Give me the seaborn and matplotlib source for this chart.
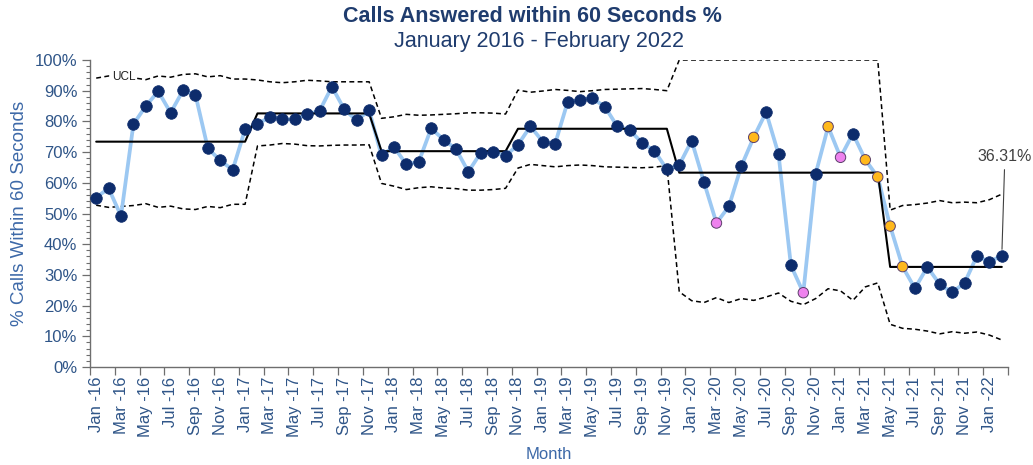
import numpy as np
import pandas as pd
import matplotlib
matplotlib.use("Agg")
import matplotlib.pyplot as plt
from matplotlib.ticker import MultipleLocator, FixedLocator, FuncFormatter
import seaborn as sns

# ---- data -------------------------------------------------------------
months = pd.date_range("2016-01-01", "2022-02-01", freq="MS")
month_labels = [f"{d:%b} -{d:%y}" for d in months]

pct_answered = [
    55.2, 58.2, 49.2, 79.1, 85.0, 89.8, 82.8, 90.1, 88.7, 71.2, 67.3, 64.2,   # 2016
    77.4, 79.1, 81.5, 80.7, 80.7, 82.3, 83.4, 91.3, 83.9, 80.3, 83.6, 68.9,   # 2017
    71.7, 66.0, 66.8, 77.7, 74.1, 71.0, 63.6, 69.8, 70.1, 68.8, 72.4, 78.4,   # 2018
    73.4, 72.8, 86.3, 87.1, 87.5, 84.8, 78.4, 77.2, 73.0, 70.4, 64.4, 65.8,   # 2019
    73.7, 60.1, 46.9, 52.3, 65.4, 74.8, 83.0, 69.4, 33.1, 24.2, 63.0, 78.3,   # 2020
    68.3, 76.0, 67.5, 61.9, 45.9, 32.7, 25.6, 32.6, 26.9, 24.3, 27.4, 36.2,   # 2021
    34.2, 36.31,                                                              # 2022
]

# process phases: number of months in each phase and its mean
phase_lengths = [13, 10, 11, 13, 17, 10]
phase_means = [73.4, 82.6, 70.3, 77.6, 63.3, 32.6]

upper_limit = [
    94.1, 94.8, 94.5, 94.2, 93.6, 94.8, 94.4, 95.3, 95.5, 94.5, 94.9, 93.8, 93.8,
    93.5, 92.9, 92.6, 92.9, 93.4, 93.2, 92.9, 92.9, 92.9, 92.9,
    81.0, 81.5, 82.3, 82.0, 82.1, 82.3, 82.5, 82.8, 82.8, 82.7, 82.4,
    90.2, 89.5, 89.9, 90.4, 90.1, 89.7, 90.0, 90.4, 90.5, 90.6, 90.7, 90.4, 90.0,
    100, 100, 100, 100, 100, 100, 100, 100, 100, 100, 100, 100, 100, 100, 100, 100, 100,
    51.1, 52.6, 52.9, 53.4, 54.2, 53.5, 53.7, 53.5, 54.5, 56.3,
]
lower_limit = [
    52.7, 52.0, 52.3, 52.6, 53.2, 52.0, 52.4, 51.5, 51.3, 52.3, 51.9, 53.0, 53.0,
    72.0, 72.3, 72.8, 72.6, 72.1, 72.0, 72.2, 72.3, 72.3, 72.4,
    59.8, 58.9, 57.8, 58.4, 58.7, 58.3, 58.1, 57.6, 57.6, 57.8, 58.2,
    64.8, 66.0, 65.6, 65.2, 65.6, 65.8, 65.6, 65.2, 65.1, 65.0, 64.9, 65.1, 65.6,
    24.5, 21.6, 21.0, 22.6, 21.0, 22.3, 21.7, 22.8, 24.1, 21.4, 20.3, 22.3, 25.5,
    24.8, 21.7, 26.1, 27.4,
    13.9, 12.6, 12.3, 11.7, 10.8, 11.5, 11.0, 11.4, 10.4, 8.8,
]

# special-cause flags: months highlighted in amber or pink
amber_months = ["2020-06", "2020-12", "2021-03", "2021-04", "2021-05", "2021-06"]
pink_months = ["2020-03", "2020-10", "2021-01"]

# ---- frame ------------------------------------------------------------
n = len(pct_answered)
df = pd.DataFrame({
    "pos": np.arange(n),
    "month": months,
    "pct": pct_answered,
    "ucl": upper_limit,
    "lcl": lower_limit,
    "mean": np.repeat(phase_means, phase_lengths),
})
ym = df["month"].dt.strftime("%Y-%m")
df["flag"] = np.where(ym.isin(amber_months), "amber",
                      np.where(ym.isin(pink_months), "pink", "normal"))

# ---- style ------------------------------------------------------------
sns.set_style("white")
plt.rcParams["font.family"] = ["Liberation Sans", "DejaVu Sans"]

NAVY = "#0D2C6C"
LINE_BLUE = "#9CC8F2"
TICK_BLUE = "#2F5588"
LABEL_BLUE = "#3D69A8"
TITLE_BLUE = "#1F3C6E"
SPINE = "#6E6E6E"

fig = plt.figure(figsize=(10.33, 4.65), dpi=100)
ax = fig.add_axes([90 / 1033, 1 - 367 / 465, 918 / 1033, 307 / 465])

# control limits
dash = (3.2, 2.2)
sns.lineplot(data=df, x="pos", y="ucl", ax=ax, color="black", linewidth=1.1,
             zorder=2).lines[-1].set_dashes(dash)
sns.lineplot(data=df, x="pos", y="lcl", ax=ax, color="black", linewidth=1.1,
             zorder=2).lines[-1].set_dashes(dash)

# monthly series
sns.lineplot(data=df, x="pos", y="pct", ax=ax, color=LINE_BLUE, linewidth=2.7, zorder=3)

# phase means
sns.lineplot(data=df, x="pos", y="mean", ax=ax, color="black", linewidth=1.5, zorder=3.5)

# markers
sns.scatterplot(data=df[df["flag"] == "normal"], x="pos", y="pct", ax=ax,
                color=NAVY, s=70, edgecolor=NAVY, linewidth=0.5, zorder=4, legend=False)
sns.scatterplot(data=df[df["flag"] != "normal"], x="pos", y="pct", hue="flag",
                palette={"amber": "#FFB81C", "pink": "#EE82EE"}, ax=ax,
                s=56, edgecolor="#5B3F6B", linewidth=0.7, zorder=4, legend=False)

# UCL tag
ax.text(2.2, 94.6, "UCL", fontsize=8.5, color="#222222", ha="center", va="center",
        bbox=dict(facecolor="white", edgecolor="none", pad=1.5), zorder=2.5)

# latest value call-out
last = df.iloc[-1]
ax.annotate(f"{last['pct']:.2f}%", xy=(last["pos"], last["pct"]),
            xytext=(last["pos"] + 0.25, 68.7), ha="center", va="center",
            fontsize=11.5, color="#404040", annotation_clip=False,
            arrowprops=dict(arrowstyle="-", color="#404040", lw=0.8,
                            shrinkA=2, shrinkB=4.5))

# ---- axes -------------------------------------------------------------
ax.set_xlim(-0.5, n - 0.5)
ax.set_ylim(0, 100)

ax.yaxis.set_major_locator(MultipleLocator(10))
ax.yaxis.set_minor_locator(MultipleLocator(2))
ax.yaxis.set_major_formatter(FuncFormatter(lambda v, _: f"{v:.0f}%"))
ax.tick_params(axis="y", which="major", length=6, width=0.9, color=SPINE,
               labelsize=12, labelcolor=TICK_BLUE, pad=3, left=True)
ax.tick_params(axis="y", which="minor", length=3, width=0.8, color=SPINE, left=True)

label_pos = df["pos"].values[::2]
ax.xaxis.set_major_locator(FixedLocator(label_pos))
ax.set_xticklabels(month_labels[::2], rotation=90, ha="center", va="top")
ax.xaxis.set_minor_locator(FixedLocator(np.arange(-0.5, n, 2)))
ax.tick_params(axis="x", which="major", length=0, labelsize=12,
               labelcolor=TICK_BLUE, pad=7, bottom=True)
ax.tick_params(axis="x", which="minor", length=6, width=0.9, color=SPINE, bottom=True)

for side in ("top", "right"):
    ax.spines[side].set_visible(False)
for side in ("left", "bottom"):
    ax.spines[side].set_color(SPINE)
    ax.spines[side].set_linewidth(1.0)

ax.set_xlabel("Month", fontsize=12, color=LABEL_BLUE)
ax.xaxis.set_label_coords(0.5, -0.26)
ax.set_ylabel("% Calls Within 60 Seconds", fontsize=13.5, color=LABEL_BLUE)
ax.yaxis.set_label_coords(-0.068, 0.5)

fig.text(532 / 1033, 1 - 17 / 465, "Calls Answered within 60 Seconds %",
         ha="center", va="center", fontsize=15.5, fontweight="bold", color=TITLE_BLUE)
fig.text(539 / 1033, 1 - 41 / 465, "January 2016 - February 2022",
         ha="center", va="center", fontsize=15.5, color=TITLE_BLUE)

fig.savefig("out.png", dpi=100)
